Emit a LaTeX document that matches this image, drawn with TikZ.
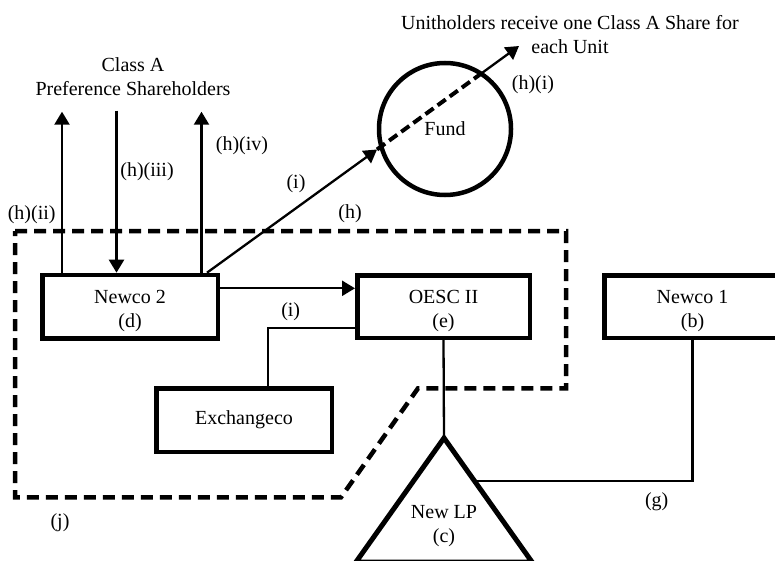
\documentclass[tikz,border=0pt]{standalone}
\usepackage{fontspec}
\setmainfont{Liberation Serif}
\usetikzlibrary{arrows.meta,calc}
\newcommand\tup{\rule{0pt}{22pt}}
\begin{document}
\begin{tikzpicture}[x=1pt,y=-1pt,
  txt/.style={font=\fontsize{20}{24}\selectfont},
  box/.style={txt, draw, line width=4.5pt, inner sep=0pt, align=center},
  lbl/.style={txt, inner sep=0pt, align=center},
  conn/.style={line width=2.3pt},
  arr/.style={conn, -{Triangle[length=13pt,width=15pt]}},
  bound/.style={line width=4.5pt, dash pattern=on 12pt off 7pt},
  inner/.style={line width=4pt, dash pattern=on 10pt off 5pt},
]
\useasboundingbox (0,0) rectangle (775,561);

% dashed boundary
\draw[bound] (15,231) -- (566,231) -- (566,388.3) -- (418,388.3) -- (341,497.3) -- (15,497.3) -- cycle;

% boxes
\node[box, minimum width=175.5pt, minimum height=63.5pt] (ntwo) at (130,306.7) {\tup Newco 2\\(d)};
\node[box, minimum width=172.5pt, minimum height=62.2pt] (oesc) at (443.5,306.7) {\tup OESC II\\(e)};
\node[box, minimum width=176pt, minimum height=62.2pt] (none) at (692.5,306.7) {\tup Newco 1\\(b)};
\node[box, minimum width=175.5pt, minimum height=63.5pt] (exch) at (244,420) {Exchangeco};
\node[txt, draw, circle, line width=4.5pt, minimum size=132pt, inner sep=0pt] (fund) at (445,129) {Fund};

% New LP triangle
\coordinate (lptop) at (444,438);
\draw[line width=5pt, line join=miter] (lptop) -- (532,562) -- (356,562) -- cycle;
\node[lbl] (lp) at (444,526) {New LP\\(c)};

% labels
\node[lbl] (title) at (570,34.5) {Unitholders receive one Class A Share for\\each Unit};
\node[lbl] (holders) at (133,76.5) {Class A\\Preference Shareholders};
\node[lbl] (hiv) at (242,145.5) {(h)(iv)};
\node[lbl] (hiii) at (147,171.7) {(h)(iii)};
\node[lbl] (hii) at (31.7,215) {(h)(ii)};
\node[lbl] (h) at (350,214) {(h)};
\node[lbl] (iup) at (296,184) {(i)};
\node[lbl] (ilow) at (290.7,311.7) {(i)};
\node[lbl] (j) at (60,523) {(j)};
\node[lbl] (g) at (656.7,501.7) {(g)};
\node[lbl] (hi) at (533,85) {(h)(i)};

% arrows above Newco 2
\coordinate (u1) at (62,111.7);
\coordinate (d1) at (116.5,110.7);
\coordinate (u2) at (201.5,111.7);
\draw[arr] (u1 |- ntwo.north) -- (u1);
\draw[arr] (d1) -- (d1 |- ntwo.north);
\draw[arr] (u2 |- ntwo.north) -- (u2);

% diagonal to Fund and beyond
\coordinate (dg) at (207,0);
\coordinate (fin) at (377,149.5);
\coordinate (fout) at (481,73.7);
\coordinate (uh) at (519,46);
\draw[arr] (dg |- ntwo.north) -- (fin);
\draw[inner] (fin) -- (fout);
\draw[arr] (fout) -- (uh);

% Newco 2 -> OESC II
\coordinate (ay) at (0,288.3);
\draw[arr] (ay -| ntwo.east) -- (ay -| oesc.west);

% Exchangeco -- OESC II
\coordinate (ej) at (268,328.3);
\draw[conn] (exch.north -| ej) -- (ej) -- (ej -| oesc.west);

% OESC II -- New LP
\draw[conn] (oesc.south) -- (lptop);

% Newco 1 -- New LP
\coordinate (lpright) at (476,481);
\draw[conn] (none.south) |- (lpright);
\end{tikzpicture}
\end{document}
